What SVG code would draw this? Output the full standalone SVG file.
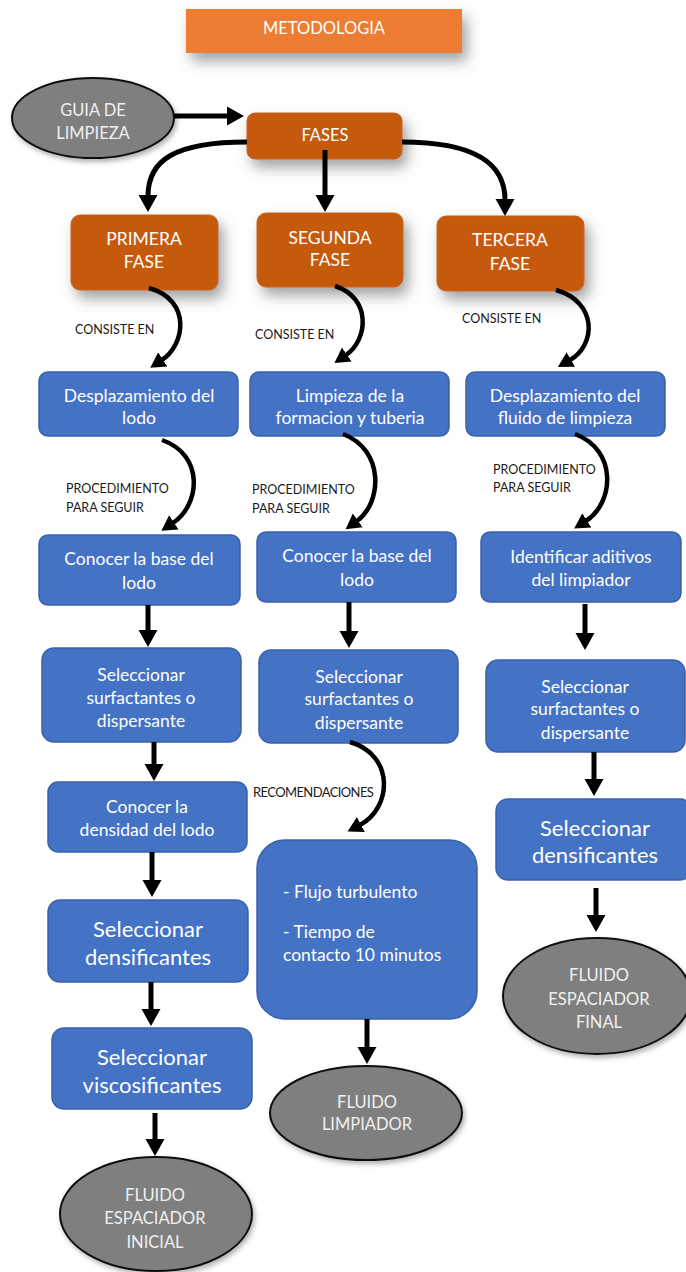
<svg xmlns="http://www.w3.org/2000/svg" width="686" height="1272" viewBox="0 0 686 1272">
<style>
text{font-family:Lato,"Open Sans","Liberation Sans",sans-serif;text-anchor:middle;dominant-baseline:central}
.w{fill:#ffffff;font-size:17.5px}
.wb{fill:#ffffff;font-size:22px}
.wo{fill:#ffffff;font-size:16.5px}
.wf{fill:#ffffff;font-size:17.5px}
.we{fill:#f0f0f0;font-size:16.5px}
.lbl{fill:#1a1a1a;font-size:12.5px;text-anchor:start}
.blue{fill:#4472C4;stroke:#3A62AA;stroke-width:1.5}
.orange{fill:#C55A11;stroke:#C8631F;stroke-width:1}
.gray{fill:#7F7F7F;stroke:#111;stroke-width:2}
.ar{fill:none;stroke:#000;stroke-width:5;marker-end:url(#h)}
.cr{fill:none;stroke:#000;stroke-width:4.5;marker-end:url(#hc)}
</style>
<defs>
<marker id="h" markerUnits="userSpaceOnUse" viewBox="0 -10 18 20" markerWidth="18" markerHeight="20" refX="1" refY="0" orient="auto"><path d="M0,-9.5 L17,0 L0,9.5 z" fill="#000"/></marker>
<marker id="hc" markerUnits="userSpaceOnUse" viewBox="0 -10 16 20" markerWidth="16" markerHeight="20" refX="1" refY="0" orient="auto"><path d="M0,-8.5 L15,0 L0,8.5 z" fill="#000"/></marker>
<filter id="sh" x="-30%" y="-30%" width="170%" height="190%"><feDropShadow dx="5" dy="8" stdDeviation="7" flood-color="#555" flood-opacity="0.55"/></filter>
<filter id="sh2" x="-20%" y="-20%" width="140%" height="150%"><feDropShadow dx="2" dy="3" stdDeviation="2.5" flood-color="#555" flood-opacity="0.45"/></filter>
</defs>

<g id="metodologia">
<rect x="186" y="9" width="276" height="44" fill="#ED7D31" filter="url(#sh)"/>
<text class="wo" x="324" y="28">METODOLOGIA</text>
</g>

<g id="guia">
<ellipse cx="93" cy="118" rx="81" ry="40" class="gray" filter="url(#sh2)"/>
<text class="we" x="93" y="110">GUIA DE</text>
<text class="we" x="93" y="133">LIMPIEZA</text>
</g>

<g id="fases">
<rect x="247" y="113" width="155" height="46" rx="8" class="orange" filter="url(#sh)"/>
<text class="wo" x="325" y="135">FASES</text>
</g>

<g id="primera">
<rect x="71" y="215" width="147" height="75" rx="9" class="orange" filter="url(#sh)"/>
<text class="wf" x="144" y="238">PRIMERA</text>
<text class="wf" x="144" y="261">FASE</text>
</g>
<g id="segunda">
<rect x="257" y="213" width="146" height="74" rx="9" class="orange" filter="url(#sh)"/>
<text class="wf" x="330" y="237">SEGUNDA</text>
<text class="wf" x="330" y="259">FASE</text>
</g>
<g id="tercera">
<rect x="437" y="216" width="147" height="75" rx="9" class="orange" filter="url(#sh)"/>
<text class="wf" x="510" y="239">TERCERA</text>
<text class="wf" x="510" y="263">FASE</text>
</g>

<g id="desp-lodo">
<rect x="39" y="372" width="199" height="64" rx="9" class="blue"/>
<text class="w" x="139" y="395">Desplazamiento del</text>
<text class="w" x="139" y="417">lodo</text>
</g>
<g id="limpieza">
<rect x="250" y="372" width="199" height="64" rx="9" class="blue"/>
<text class="w" x="350" y="395">Limpieza de la</text>
<text class="w" x="350" y="417">formacion y tuberia</text>
</g>
<g id="desp-fluido">
<rect x="466" y="372" width="199" height="64" rx="9" class="blue"/>
<text class="w" x="565" y="395">Desplazamiento del</text>
<text class="w" x="565" y="417">fluido de limpieza</text>
</g>

<g id="base1">
<rect x="39" y="535" width="201" height="70" rx="9" class="blue"/>
<text class="w" x="139" y="558">Conocer la base del</text>
<text class="w" x="139" y="582">lodo</text>
</g>
<g id="base2">
<rect x="257" y="532" width="199" height="70" rx="9" class="blue"/>
<text class="w" x="357" y="555">Conocer la base del</text>
<text class="w" x="357" y="579">lodo</text>
</g>
<g id="aditivos">
<rect x="481" y="532" width="200" height="70" rx="9" class="blue"/>
<text class="w" x="581" y="556">Identificar aditivos</text>
<text class="w" x="581" y="579">del limpiador</text>
</g>

<g id="surf1">
<rect x="42" y="648" width="199" height="94" rx="12" class="blue"/>
<text class="w" x="141" y="674">Seleccionar</text>
<text class="w" x="141" y="697">surfactantes o</text>
<text class="w" x="141" y="720">dispersante</text>
</g>
<g id="surf2">
<rect x="259" y="650" width="199" height="93" rx="12" class="blue"/>
<text class="w" x="359" y="676">Seleccionar</text>
<text class="w" x="359" y="698">surfactantes o</text>
<text class="w" x="359" y="722">dispersante</text>
</g>
<g id="surf3">
<rect x="486" y="660" width="199" height="92" rx="12" class="blue"/>
<text class="w" x="585" y="686">Seleccionar</text>
<text class="w" x="585" y="708">surfactantes o</text>
<text class="w" x="585" y="732">dispersante</text>
</g>

<g id="densidad">
<rect x="48" y="782" width="199" height="70" rx="10" class="blue"/>
<text class="w" x="147" y="806">Conocer la</text>
<text class="w" x="147" y="829">densidad del lodo</text>
</g>

<g id="recom-box">
<rect x="257" y="840" width="220" height="179" rx="28" class="blue"/>
<text class="w" x="283" y="891" style="text-anchor:start">- Flujo turbulento</text>
<text class="w" x="283" y="931" style="text-anchor:start">- Tiempo de</text>
<text class="w" x="283" y="954" style="text-anchor:start">contacto 10 minutos</text>
</g>

<g id="dens3">
<rect x="496" y="799" width="196" height="81" rx="12" class="blue"/>
<text class="wb" x="595" y="827">Seleccionar</text>
<text class="wb" x="595" y="854">densificantes</text>
</g>

<g id="dens1">
<rect x="48" y="900" width="200" height="82" rx="12" class="blue"/>
<text class="wb" x="148" y="928">Seleccionar</text>
<text class="wb" x="148" y="956">densificantes</text>
</g>

<g id="visco">
<rect x="52" y="1028" width="200" height="81" rx="12" class="blue"/>
<text class="wb" x="152" y="1056">Seleccionar</text>
<text class="wb" x="152" y="1084">viscosificantes</text>
</g>

<g id="final">
<ellipse cx="597" cy="996" rx="94" ry="58" class="gray" filter="url(#sh2)"/>
<text class="we" x="599" y="975">FLUIDO</text>
<text class="we" x="599" y="999">ESPACIADOR</text>
<text class="we" x="599" y="1022">FINAL</text>
</g>
<g id="limpiador">
<ellipse cx="366" cy="1113" rx="96" ry="47" class="gray" filter="url(#sh2)"/>
<text class="we" x="367" y="1102">FLUIDO</text>
<text class="we" x="367" y="1124">LIMPIADOR</text>
</g>
<g id="inicial">
<ellipse cx="156" cy="1214" rx="96" ry="57" class="gray" filter="url(#sh2)"/>
<text class="we" x="155" y="1195">FLUIDO</text>
<text class="we" x="155" y="1218">ESPACIADOR</text>
<text class="we" x="155" y="1242">INICIAL</text>
</g>

<g id="connectors">
<path class="ar" d="M174,116 L228,116"/>
<path class="ar" d="M247,142 C175,142 148,160 148,196"/>
<path class="ar" d="M325,150 L325,196"/>
<path class="ar" d="M402,142 C478,142 505,165 505,200"/>

<path class="cr" d="M149,288 C192,300 185,345 162,360"/>
<path class="cr" d="M335,286 C372,298 368,340 346,355"/>
<path class="cr" d="M556,290 C598,302 596,345 570,360"/>

<path class="cr" d="M162,440 C205,455 200,505 173,523"/>
<path class="cr" d="M343,434 C385,450 382,503 357,521"/>
<path class="cr" d="M575,434 C618,450 614,503 586,521"/>
<path class="cr" d="M350,742 C395,755 392,808 360,825"/>

<path class="ar" d="M148,605 L148,631"/>
<path class="ar" d="M154,742 L154,765"/>
<path class="ar" d="M152,852 L152,881"/>
<path class="ar" d="M151,982 L151,1010"/>
<path class="ar" d="M155,1113 L155,1140"/>
<path class="ar" d="M349,602 L349,632"/>
<path class="ar" d="M367,1019 L367,1048"/>
<path class="ar" d="M585,604 L585,634"/>
<path class="ar" d="M594,752 L594,780"/>
<path class="ar" d="M596,888 L596,916"/>

<text class="lbl" x="75" y="329">CONSISTE EN</text>
<text class="lbl" x="255" y="334">CONSISTE EN</text>
<text class="lbl" x="462" y="318">CONSISTE EN</text>
<text class="lbl" x="66" y="488">PROCEDIMIENTO</text>
<text class="lbl" x="66" y="507">PARA SEGUIR</text>
<text class="lbl" x="252" y="489">PROCEDIMIENTO</text>
<text class="lbl" x="252" y="508">PARA SEGUIR</text>
<text class="lbl" x="493" y="469">PROCEDIMIENTO</text>
<text class="lbl" x="493" y="487">PARA SEGUIR</text>
<text class="lbl" x="253" y="792" style="font-size:13px;letter-spacing:-0.6px">RECOMENDACIONES</text>
</g>
</svg>
